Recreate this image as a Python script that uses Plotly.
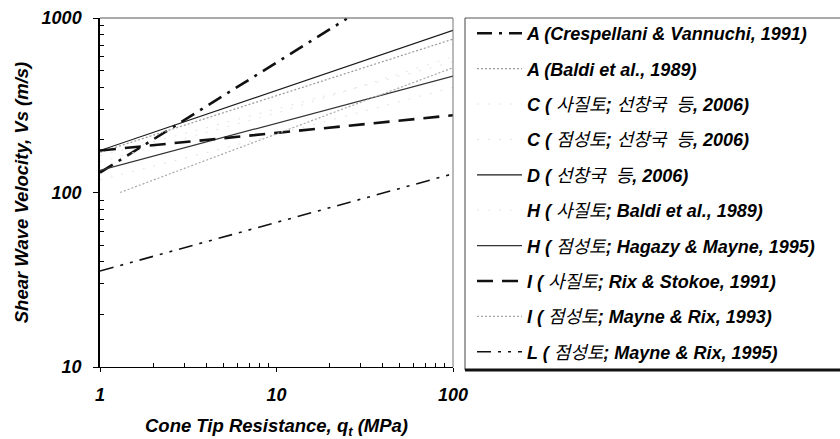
import plotly.graph_objects as go

# ---- data (q in MPa, Vs in m/s) ----
q_A_cres = [1, 10, 25]
vs_A_cres = [130, 555, 990]

q_std = [1, 10, 100]
vs_A_baldi = [170, 360, 757]
vs_C_sand = [162, 300, 560]
vs_C_clay = [118, 215, 400]
vs_D = [174, 385, 850]
vs_H_sand = [150, 285, 600]
vs_H_clay = [134, 250, 464]
vs_I_sand = [174, 220, 277]

q_I_clay = [1.3, 10, 100]
vs_I_clay = [100, 217, 519]

vs_L = [35.5, 67.5, 128]

names = [
    "<b>A (Crespellani &amp; Vannuchi, 1991)</b>",
    "<b>A (Baldi et al., 1989)</b>",
    "<b>C (</b> 사질토<b>;</b> 선창국  등<b>, 2006)</b>",
    "<b>C (</b> 점성토<b>;</b> 선창국  등<b>, 2006)</b>",
    "<b>D (</b> 선창국  등<b>, 2006)</b>",
    "<b>H (</b> 사질토<b>; Baldi et al., 1989)</b>",
    "<b>H (</b> 점성토<b>; Hagazy &amp; Mayne, 1995)</b>",
    "<b>I (</b> 사질토<b>; Rix &amp; Stokoe, 1991)</b>",
    "<b>I (</b> 점성토<b>; Mayne &amp; Rix, 1993)</b>",
    "<b>L (</b> 점성토<b>; Mayne &amp; Rix, 1995)</b>",
]

y_ticks = [10, 100, 1000]
x_ticks = [1, 10, 100]

series = [
    (q_A_cres, vs_A_cres, dict(color="#111111", width=2.6, dash="15px,7px,3px,7px")),
    (q_std, vs_A_baldi, dict(color="#9a9a9a", width=1.2, dash="2px,2px")),
    (q_std, vs_C_sand, dict(color="#e4e4e4", width=1.0, dash="2px,9px")),
    (q_std, vs_C_clay, dict(color="#e4e4e4", width=1.0, dash="2px,9px")),
    (q_std, vs_D, dict(color="#1a1a1a", width=1.2)),
    (q_std, vs_H_sand, dict(color="#e6e6e6", width=1.0, dash="2px,9px")),
    (q_std, vs_H_clay, dict(color="#333333", width=1.2)),
    (q_std, vs_I_sand, dict(color="#111111", width=2.6, dash="16px,9px")),
    (q_I_clay, vs_I_clay, dict(color="#a8a8a8", width=1.2, dash="2px,2px")),
    (q_std, vs_L, dict(color="#111111", width=1.6, dash="14px,7px,3px,7px,3px,7px")),
]

fig = go.Figure()
for i, ((xs, ys, ln), nm) in enumerate(zip(series, names)):
    fig.add_trace(go.Scatter(x=xs, y=ys, mode="lines", line=ln, name=nm,
                             legendgroup=f"g{i}", showlegend=True))

tickf = dict(family="Liberation Sans, Arial, sans-serif", size=18, color="black",
             weight="bold", style="italic")
titlef = dict(family="Liberation Sans, Arial, sans-serif", size=18.5, color="black",
              weight="bold", style="italic")

x_minor = [m * d for d in (1, 10) for m in range(2, 10)]
y_minor = [m * d for d in (10, 100) for m in range(2, 10)]

fig.update_xaxes(type="log", range=[0, 2], tickvals=x_ticks, automargin=False,
                 ticktext=[str(v) for v in x_ticks], ticks="outside", ticklen=4,
                 tickcolor="black", showline=True, linecolor="black", linewidth=1,
                 mirror=False, showgrid=False, zeroline=False, tickfont=tickf,
                 ticklabelstandoff=7,
                 minor=dict(tickvals=x_minor, ticks="inside", ticklen=4,
                            tickcolor="black", showgrid=False),
                 title=dict(text="Cone Tip Resistance, q<sub>t</sub> (MPa)",
                            font=titlef, standoff=15))
fig.update_yaxes(type="log", range=[1, 3], tickvals=y_ticks, automargin=False,
                 ticktext=[str(v) for v in y_ticks], ticks="outside", ticklen=5,
                 tickcolor="black", showline=True, linecolor="black", linewidth=1.5,
                 mirror=False, showgrid=False, zeroline=False, tickfont=tickf,
                 ticklabelstandoff=8,
                 minor=dict(tickvals=y_minor, ticks="inside", ticklen=4,
                            tickcolor="black", showgrid=False),
                 title=dict(text="Shear Wave Velocity, Vs (m/s)", font=titlef,
                            standoff=8))

L, R, T, B = 100, 387, 18, 72
pw = 840 - L - R
ph = 439 - T - B

def px(xpix):
    return (xpix - L) / pw

def py(ypix):
    return (439 - B - ypix) / ph

shapes = [
    dict(type="line", xref="paper", yref="paper", x0=0, x1=1, y0=1, y1=1,
         line=dict(color="#555555", width=1)),
    dict(type="line", xref="paper", yref="paper", x0=1, x1=1, y0=0, y1=1,
         line=dict(color="#777777", width=1)),
    dict(type="line", xref="paper", yref="paper", x0=px(465), x1=px(465),
         y0=py(370), y1=py(18), line=dict(color="#444444", width=1)),
    dict(type="line", xref="paper", yref="paper", x0=px(465), x1=px(850),
         y0=py(18), y1=py(18), line=dict(color="#555555", width=1)),
    dict(type="line", xref="paper", yref="paper", x0=px(465), x1=px(850),
         y0=py(370), y1=py(370), line=dict(color="#111111", width=3)),
]

fig.update_layout(
    width=840, height=439,
    margin=dict(l=L, r=R, t=T, b=B, autoexpand=False),
    paper_bgcolor="white", plot_bgcolor="white",
    shapes=shapes,
    showlegend=True,
    legend=dict(x=px(472), y=py(15), xanchor="left", yanchor="top",
                font=dict(family="Liberation Sans, Noto Sans CJK KR, sans-serif",
                          size=18, color="black", style="italic"),
                bgcolor="rgba(0,0,0,0)", borderwidth=0, maxheight=1,
                tracegroupgap=9, itemwidth=45, traceorder="grouped"),
)

fig.write_html("out.html")
